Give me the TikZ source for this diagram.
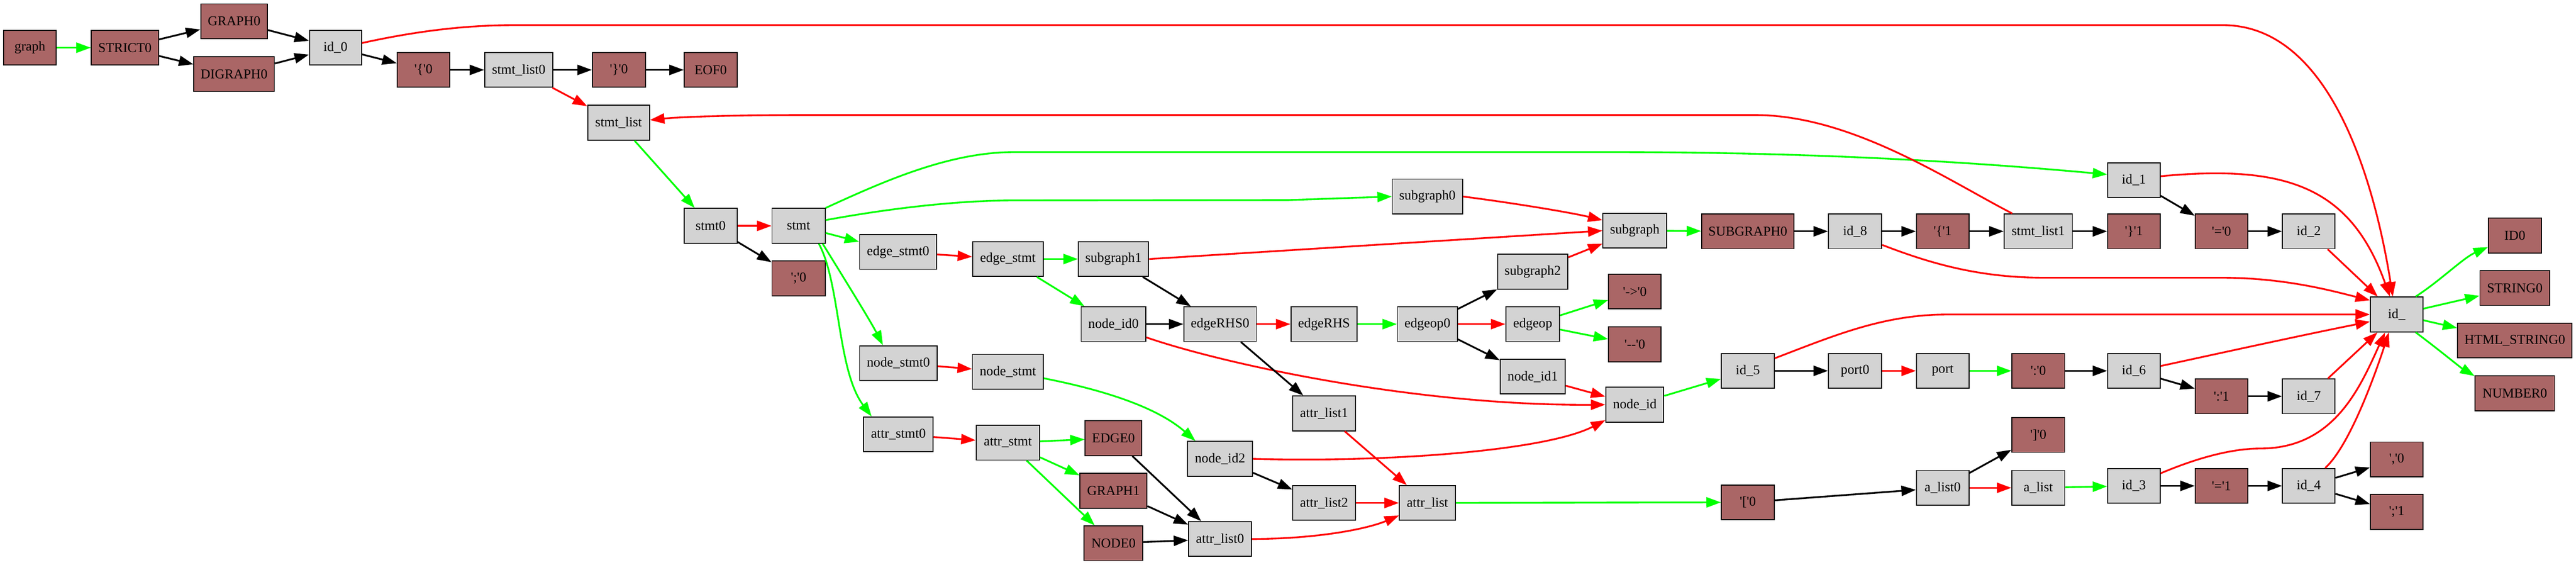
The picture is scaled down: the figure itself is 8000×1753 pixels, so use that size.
\documentclass[tikz,border=0pt]{standalone}
\usepackage{fontspec}
\newfontfamily\lbs{Liberation Serif}
\usetikzlibrary{arrows.meta}
\definecolor{brn}{HTML}{AA6666}
\definecolor{gry}{HTML}{D3D3D3}
\definecolor{grn}{HTML}{00FF00}
\definecolor{rd}{HTML}{FF0000}
\tikzset{
 nd/.style={draw=black, line width=1pt, minimum height=36pt, inner sep=0pt, font=\lbs\fontsize{14pt}{16pt}\selectfont, anchor=center},
 gn/.style={nd, fill=gry, minimum width=#1*0.33333pt},
 bn/.style={nd, fill=brn, minimum width=#1*0.33333pt},
 ed/.style={line width=1.8pt, -{Triangle[length=15pt,width=10.5pt]}},
 eb/.style={ed, color=black},
 eg/.style={ed, color=grn},
 er/.style={ed, color=rd},
}
\begin{document}
\begin{tikzpicture}[x=0.33333pt, y=-0.33333pt]
\useasboundingbox (0,0) rectangle (8000,1753);
% nodes
\node[bn=164] (gr) at (93,148) {graph};
\node[bn=209] (strict) at (388,148) {STRICT0};
\node[bn=207] (graphz) at (727,66) {GRAPH0};
\node[bn=250] (digraph) at (727,230) {DIGRAPH0};
\node[gn=162] (idz) at (1042,148) {id\_0};
\node[bn=163] (lbz) at (1315,217) {'\{'0};
\node[gn=212] (slz) at (1611,217) {stmt\_list0};
\node[bn=165] (rbz) at (1922,217) {'\}'0};
\node[bn=164] (eof) at (2207,217) {EOF0};
\node[gn=192] (sl) at (1921,381) {stmt\_list};
\node[gn=164] (stz) at (2207,701) {stmt0};
\node[gn=165] (st) at (2480,701) {stmt};
\node[bn=165] (scz) at (2480,864) {';'0};
\node[gn=239] (esz) at (2789,782) {edge\_stmt0};
\node[gn=219] (es) at (3130,804) {edge\_stmt};
\node[gn=218] (sgo) at (3458,804) {subgraph1};
\node[gn=201] (niz) at (3458,1006) {node\_id0};
\node[gn=225] (erz) at (3789,1006) {edgeRHS0};
\node[gn=241] (nsz) at (2790,1127) {node\_stmt0};
\node[gn=220] (ns) at (3130,1154) {node\_stmt};
\node[gn=216] (asz) at (2790,1348) {attr\_stmt0};
\node[gn=197] (ast) at (3130,1374) {attr\_stmt};
\node[bn=176] (edgez) at (3458,1360) {EDGE0};
\node[bn=208] (grapho) at (3458,1523) {GRAPH1};
\node[bn=182] (nodez) at (3458,1686) {NODE0};
\node[gn=201] (nit) at (3789,1424) {node\_id2};
\node[gn=195] (alz) at (3789,1673) {attr\_list0};
\node[gn=218] (sgz) at (4433,610) {subgraph0};
\node[gn=198] (sg) at (5077,716) {subgraph};
\node[gn=218] (sgt) at (4760,843) {subgraph2};
\node[bn=163] (arz) at (5077,905) {'->'0};
\node[bn=163] (ddz) at (5077,1069) {'--'0};
\node[gn=206] (er) at (4112,1006) {edgeRHS};
\node[gn=186] (eoz) at (4433,1006) {edgeop0};
\node[gn=167] (eo) at (4760,1006) {edgeop};
\node[gn=202] (nio) at (4760,1169) {node\_id1};
\node[gn=180] (ni) at (5077,1256) {node\_id};
\node[gn=194] (alo) at (4112,1283) {attr\_list1};
\node[gn=194] (alt) at (4112,1561) {attr\_list2};
\node[gn=174] (al) at (4433,1561) {attr\_list};
\node[bn=287] (SGz) at (5428,718) {SUBGRAPH0};
\node[gn=165] (ide) at (5761,718) {id\_8};
\node[bn=163] (lbo) at (6033,718) {'\{'1};
\node[gn=212] (slo) at (6330,718) {stmt\_list1};
\node[bn=163] (rbo) at (6627,718) {'\}'1};
\node[gn=163] (ido) at (6627,559) {id\_1};
\node[gn=164] (idf) at (5428,1151) {id\_5};
\node[gn=165] (ptz) at (5761,1151) {port0};
\node[gn=163] (prt) at (6033,1151) {port};
\node[bn=164] (clz) at (6330,1151) {':'0};
\node[gn=163] (ids) at (6627,1151) {id\_6};
\node[bn=164] (rkz) at (6330,1350) {']'0};
\node[gn=163] (alsz) at (6033,1514) {a\_list0};
\node[gn=164] (als) at (6330,1514) {a\_list};
\node[gn=163] (idth) at (6627,1508) {id\_3};
\node[bn=164] (lkz) at (5428,1559) {'['0};
\node[bn=163] (eqz) at (6899,718) {'='0};
\node[gn=163] (idtw) at (7170,718) {id\_2};
\node[gn=163] (idu) at (7443,976) {id\_};
\node[bn=164] (IDz) at (7810,731) {ID0};
\node[bn=217] (strz) at (7810,894) {STRING0};
\node[bn=355] (htmlz) at (7810,1057) {HTML\_STRING0};
\node[bn=247] (numz) at (7810,1221) {NUMBER0};
\node[bn=163] (clo) at (6899,1230) {':'1};
\node[gn=163] (idsv) at (7170,1230) {id\_7};
\node[bn=163] (eqo) at (6899,1508) {'='1};
\node[gn=163] (idfo) at (7170,1508) {id\_4};
\node[bn=163] (cmz) at (7443,1426) {','0};
\node[bn=163] (sco) at (7443,1589) {';'1};
% edges
\draw[eg] (gr) -- (strict);
\draw[eb] (strict) -- (graphz);
\draw[eb] (strict) -- (digraph);
\draw[eb] (graphz) -- (idz);
\draw[eb] (digraph) -- (idz);
\draw[er] (idz.10) .. controls (1300,95) and (1450,78) .. (1600,78) -- (6903,78) .. controls (7250,78) and (7380,600) .. ([xshift=-4pt]idu.north);
\draw[eb] (idz) -- (lbz);
\draw[eb] (lbz) -- (slz);
\draw[eb] (slz) -- (rbz);
\draw[eb] (rbz) -- (eof);
\draw[er] (slz) -- (sl);
\draw[eg] (sl) -- (stz);
\draw[er] (stz) -- (st);
\draw[eb] (stz) -- (scz);
\draw[eg] (st.north east) .. controls (2750,560) and (2950,472) .. (3150,472) -- (5000,472) .. controls (5700,472) and (6200,510) .. (ido.168);
\draw[eg] (st.12) .. controls (2800,640) and (3000,622) .. (3150,622) -- (4000,621) -- (sgz.west);
\draw[eg] (st) -- (esz);
\draw[eg] ([xshift=-3pt]st.south east) .. controls (2600,830) and (2700,990) .. ([xshift=-16pt]nsz.north);
\draw[eg] ([xshift=-7pt]st.south east) .. controls (2610,880) and (2600,1150) .. ([xshift=-27.7pt]asz.north);
\draw[er] (esz) -- (es);
\draw[eg] (es) -- (sgo);
\draw[eg] (es) -- (niz);
\draw[eb] (sgo) -- (erz);
\draw[er] (sgo.east) -- (sg.west);
\draw[eb] (niz) -- (erz);
\draw[er] ([yshift=-13.7pt]niz.east) .. controls (3800,1130) and (4400,1260) .. (ni.west);
\draw[er] (erz) -- (er);
\draw[eb] (erz) -- (alo);
\draw[eg] (er) -- (eoz);
\draw[eb] (eoz) -- (sgt);
\draw[er] (eoz) -- (eo);
\draw[eb] (eoz) -- (nio);
\draw[eg] (eo) -- (arz);
\draw[eg] (eo) -- (ddz);
\draw[er] (sgt) -- (sg);
\draw[er] (nio) -- (ni);
\draw[er] (sgz.east) .. controls (4700,630) and (4880,660) .. (sg.162);
\draw[eg] (sg) -- (SGz);
\draw[eb] (SGz) -- (ide);
\draw[eb] (ide) -- (lbo);
\draw[eb] (lbo) -- (slo);
\draw[eb] (slo) -- (rbo);
\draw[er] ([xshift=-27pt]slo.north) .. controls (6050,560) and (5750,357) .. (5450,357) -- (2500,357) .. controls (2250,357) and (2100,364) .. (sl.5);
\draw[er] ([yshift=-14pt]ide.east) .. controls (6000,820) and (6150,862) .. (6350,862) -- (6900,862) .. controls (7100,862) and (7250,905) .. (idu.152);
\draw[er] (nsz) -- (ns);
\draw[eg] ([yshift=-6.7pt]ns.east) .. controls (3450,1215) and (3600,1270) .. ([xshift=-25.5pt]nit.north);
\draw[er] (nit.east) .. controls (4300,1436) and (4800,1400) .. ([yshift=-16pt]ni.west);
\draw[eb] (nit) -- (alt);
\draw[er] (alo) -- (al);
\draw[er] (alt) -- (al);
\draw[er] (alz.east) .. controls (4100,1672) and (4250,1640) .. ([yshift=-13pt]al.west);
\draw[er] (asz) -- (ast);
\draw[eg] (ast) -- (edgez);
\draw[eg] (ast) -- (grapho);
\draw[eg] (ast) -- (nodez);
\draw[eb] (edgez) -- (alz);
\draw[eb] (grapho) -- (alz);
\draw[eb] (nodez) -- (alz);
\draw[eg] (ni) -- (idf);
\draw[eb] (idf) -- (ptz);
\draw[er] ([yshift=13pt]idf.east) .. controls (5700,1040) and (5850,976) .. (6050,976) -- (idu.west);
\draw[er] (ptz) -- (prt);
\draw[eg] (prt) -- (clz);
\draw[eb] (clz) -- (ids);
\draw[er] ([yshift=5pt]ids.east) .. controls (6900,1095) and (7150,1040) .. (idu.195);
\draw[eb] (ids) -- (clo);
\draw[eb] (clo) -- (idsv);
\draw[er] (idsv) -- (idu);
\draw[eg] (al) -- (lkz);
\draw[eb] (lkz) -- (alsz);
\draw[eb] (alsz) -- (rkz);
\draw[er] (alsz) -- (als);
\draw[eg] (als) -- (idth);
\draw[eb] (idth) -- (eqo);
\draw[er] ([yshift=13pt]idth.east) .. controls (6850,1410) and (6950,1392) .. (7020,1392) .. controls (7250,1392) and (7330,1200) .. ([xshift=-12pt]idu.south);
\draw[eb] (eqo) -- (idfo);
\draw[eb] (idfo) -- (cmz);
\draw[eb] (idfo) -- (sco);
\draw[er] ([xshift=17pt]idfo.north) .. controls (7300,1380) and (7380,1150) .. ([xshift=-8pt]idu.south);
\draw[eb] (ido) -- (eqz);
\draw[er] ([yshift=4pt]ido.east) .. controls (7100,510) and (7300,580) .. ([xshift=-7pt]idu.north);
\draw[eb] (eqz) -- (idtw);
\draw[er] (idtw) -- (idu);
\draw[eg] ([xshift=-8pt]idu.north east) .. controls (7580,870) and (7650,800) .. ([yshift=-12pt]IDz.west);
\draw[eg] ([yshift=6pt]idu.east) -- ([yshift=-8pt]strz.west);
\draw[eg] ([yshift=-6pt]idu.east) -- ([yshift=13pt]htmlz.west);
\draw[eg] ([xshift=-8pt]idu.south east) .. controls (7580,1090) and (7640,1140) .. ([yshift=18pt]numz.west);
\end{tikzpicture}
\end{document}
